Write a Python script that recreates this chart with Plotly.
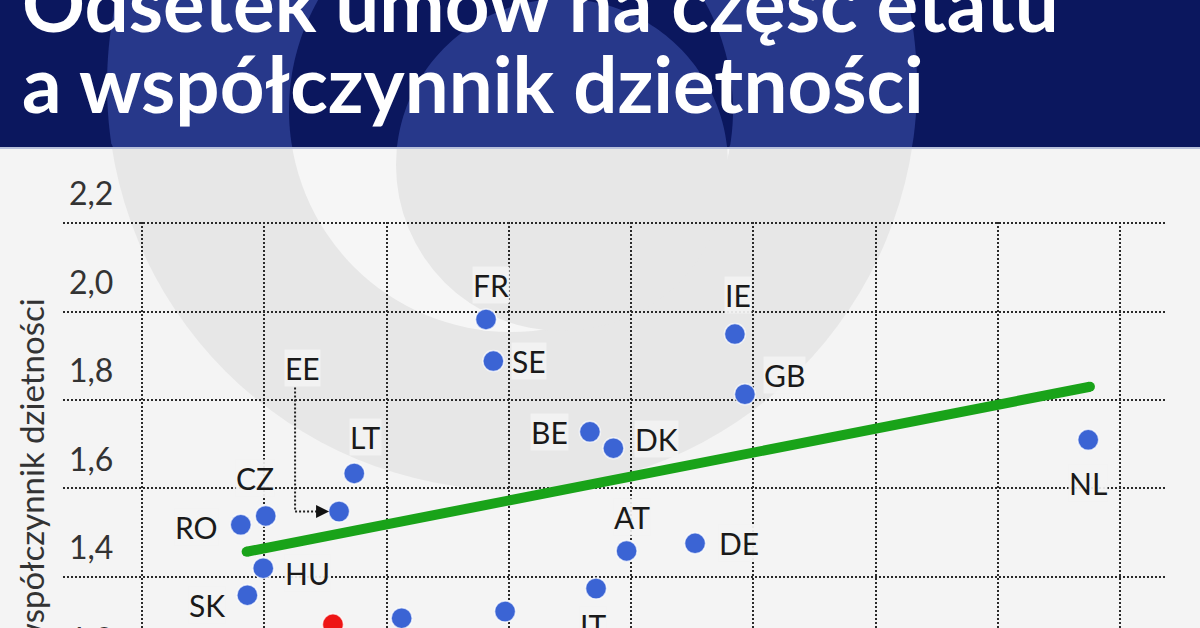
import numpy as np
import plotly.graph_objects as go

# ---------------- data ----------------
countries = ["FR", "SE", "IE", "GB", "BE", "DK", "NL", "DE", "AT", "IT",
             "LT", "EE", "CZ", "RO", "HU", "SK", "PL", "", ""]
part_time = [14.07, 14.37, 24.25, 24.66, 18.32, 19.28, 38.70, 22.62, 19.82, 18.57,
             8.68, 8.06, 5.06, 4.04, 4.96, 4.31, 7.81, 10.62, 14.85]
fertility = [1.982, 1.888, 1.949, 1.813, 1.728, 1.691, 1.710, 1.476, 1.459, 1.374,
             1.634, 1.548, 1.538, 1.518, 1.420, 1.359, 1.293, 1.307, 1.322]
highlight = "PL"

trend_x = [4.28, 38.77]
trend_y = [1.457, 1.830]

y_ticks = [1.2, 1.4, 1.6, 1.8, 2.0, 2.2]
y_tick_text = ["1,2", "1,4", "1,6", "1,8", "2,0", "2,2"]
x_ticks = [0, 5, 10, 15, 20, 25, 30, 35, 40]

title_line1 = "Odsetek umów na część etatu"
title_line2 = "a współczynnik dzietności"
y_title = "współczynnik dzietności"

# label placement (pixel offsets of label centre from the dot; +dy = down)
label_dx = [5, 36, 3, 40, -40, 43, 0, 44, 5, -3, 11, -37, -11, -44, 44, -40, 0, 0, 0]
label_dy = [-34, 0, -39, -19, 0, -9, 43, 0, -34, 37, -36, -144, -38, 2, 5, 10, 0, 0, 0]

# ---------------- layout geometry ----------------
W, H = 1200, 628
L, R, T, B = 63, 33, 222, 0
pw, ph = W - L - R, H - T - B


def px(x):
    return (x - L) / pw


def py(y):
    return (H - B - y) / ph


BG = "#f4f4f4"
LOGO_GRAY = "#e7e7e7"
NAVY = "#0b175e"
NAVY_LIGHT = "#27388a"
BLUE = "#3b64d4"
RED = "#ee1515"
GREEN = "#19a319"
HEADER_H = 147

fig = go.Figure()

fig.add_trace(go.Scatter(
    x=trend_x, y=trend_y, mode="lines+markers",
    line=dict(color=GREEN, width=10),
    marker=dict(color=GREEN, size=10),
    hoverinfo="skip", showlegend=False, cliponaxis=False))

colors = [RED if c == highlight else BLUE for c in countries]
fig.add_trace(go.Scatter(
    x=part_time, y=fertility, mode="markers",
    marker=dict(color=colors, size=21, line=dict(color="rgba(255,255,255,0.7)", width=1.5)),
    text=countries, hoverinfo="text", showlegend=False, cliponaxis=False))

# ---------------- background logo & header ----------------
shapes = []


def circle(cx, cy, r, color):
    return dict(type="circle", xref="paper", yref="paper", layer="below",
                x0=px(cx - r), x1=px(cx + r), y0=py(cy + r), y1=py(cy - r),
                fillcolor=color, line=dict(width=0))


def clipped_circle(cx, cy, r, color, ymax):
    t = np.linspace(0, 2 * np.pi, 240)
    xs = cx + r * np.cos(t)
    ys = np.minimum(cy + r * np.sin(t), ymax)
    pts = " L".join(f"{px(a):.5f},{py(b):.5f}" for a, b in zip(xs, ys))
    return dict(type="path", xref="paper", yref="paper", layer="below",
                path="M" + pts + " Z", fillcolor=color, line=dict(width=0))


logo = [(512, 85, 405), (511, 110, 222), (562, 165, 166)]
shapes.append(circle(*logo[0], LOGO_GRAY))
shapes.append(circle(*logo[1], "#f6f6f6"))
shapes.append(circle(*logo[2], LOGO_GRAY))
shapes.append(dict(type="rect", xref="paper", yref="paper", layer="below",
                   x0=px(0), x1=px(W), y0=py(HEADER_H), y1=py(0),
                   fillcolor=NAVY, line=dict(width=0)))
shapes.append(clipped_circle(*logo[0], NAVY_LIGHT, HEADER_H))
shapes.append(clipped_circle(*logo[1], NAVY, HEADER_H))
shapes.append(clipped_circle(*logo[2], NAVY_LIGHT, HEADER_H))
shapes.append(dict(type="line", xref="paper", yref="paper", layer="below",
                   x0=px(0), x1=px(W), y0=py(HEADER_H + 1), y1=py(HEADER_H + 1),
                   line=dict(color="#b9c1dc", width=2)))

# EE connector
ee = countries.index("EE")
shapes.append(dict(type="path", xref="x", yref="y", xsizemode="pixel", ysizemode="pixel",
                   xanchor=part_time[ee], yanchor=fertility[ee],
                   path="M -44,124 L -44,0 L -16,0",
                   line=dict(color="#222222", width=2, dash="2px,2px")))

annotations = []
for c, xv, yv, dx, dy in zip(countries, part_time, fertility, label_dx, label_dy):
    if not c or c == highlight:
        continue
    annotations.append(dict(
        x=xv, y=yv, xref="x", yref="y", text=c, showarrow=False,
        xshift=dx, yshift=-dy,
        font=dict(family="Lato", size=30, color="#1a1a1a"),
        bgcolor="rgba(243,243,243,0.92)", borderpad=0))

annotations.append(dict(
    x=part_time[ee], y=fertility[ee], xref="x", yref="y", text="",
    showarrow=True, arrowhead=2, arrowsize=1.3, arrowwidth=2, arrowcolor="#111111",
    ax=-20, ay=0, standoff=10))

annotations.append(dict(
    x=px(31), y=py(474), xref="paper", yref="paper", text=y_title, textangle=-90,
    xanchor="center", yanchor="middle",
    showarrow=False, font=dict(family="Lato", size=33, color="#333333")))

annotations.append(dict(
    x=px(67), y=py(638), xref="paper", yref="paper", text=y_tick_text[0],
    xanchor="left", yanchor="middle",
    showarrow=False, font=dict(family="Lato", size=32, color="#333333")))

annotations.append(dict(
    x=px(20), y=py(2), xref="paper", yref="paper", text=title_line1,
    xanchor="left", yanchor="middle", showarrow=False,
    font=dict(family="Lato", size=78, color="white", weight="bold")))
annotations.append(dict(
    x=px(20), y=py(83), xref="paper", yref="paper", text=title_line2,
    xanchor="left", yanchor="middle", showarrow=False,
    font=dict(family="Lato", size=78, color="white", weight="bold")))

grid = dict(showgrid=True, gridcolor="#2a2a2a", gridwidth=2, griddash="2px,2px",
            zeroline=False, showline=False, ticks="")

fig.update_layout(
    width=W, height=H,
    margin=dict(l=L, r=R, t=T, b=B),
    paper_bgcolor=BG, plot_bgcolor="rgba(0,0,0,0)",
    shapes=shapes, annotations=annotations,
    xaxis=dict(range=[-79 / 24.45, 40 + 47 / 24.45], tickvals=x_ticks,
               showticklabels=False, **grid),
    yaxis=dict(range=[1.2847, 2.2023], tickvals=y_ticks, ticktext=y_tick_text,
               ticklabelposition="inside", ticklabelshift=-29, ticklabelstandoff=3,
               ticklabeloverflow="allow",
               tickfont=dict(family="Lato", size=32, color="#333333"), **grid),
    font=dict(family="Lato"),
)

fig.write_html("out.html", config={"displayModeBar": False},
               post_script="document.body.style.margin='0';document.body.style.overflow='hidden';")
